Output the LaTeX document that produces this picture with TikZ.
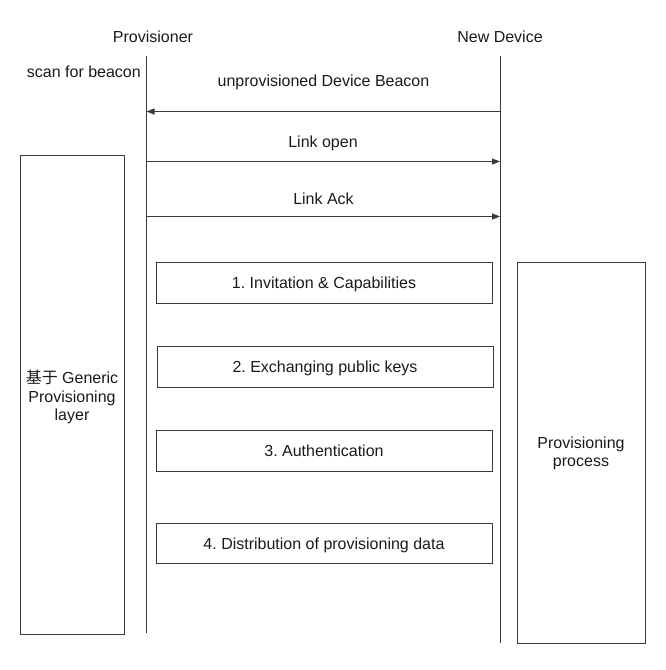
\documentclass[tikz,border=0pt]{standalone}
\usepackage{fontspec}
\setmainfont{Liberation Sans}
\newfontfamily\cjk{Noto Sans CJK SC}
\usetikzlibrary{arrows.meta}
\frenchspacing
\definecolor{ln}{HTML}{3A3A3A}
\definecolor{tx}{HTML}{1A1A1A}
\tikzset{
  every node/.style={text=tx, font=\fontsize{16}{18.5}\selectfont, inner sep=0pt},
  life/.style={draw=ln, line width=1pt},
  msg/.style={draw=ln, line width=1pt, -{Triangle[length=8pt,width=6pt]}},
  stepbox/.style={draw=ln, line width=1pt, minimum width=336pt, minimum height=40.5pt, anchor=north west, text height=11.5pt, text depth=0pt},
}
\begin{document}
\begin{tikzpicture}[x=1pt,y=-1pt]
\useasboundingbox (0,0) rectangle (666,670);
% actors
\node (prov) at (153,37) {Provisioner};
\node (dev) at (500,37) {New Device};
% lifelines
\coordinate (pt) at (146.5,56);
\coordinate (pb) at (146.5,633);
\coordinate (dt) at (500,56);
\coordinate (db) at (500,643);
\draw[life] (pt) -- (pb);
\draw[life] (dt) -- (db);
% messages
\node[anchor=east] (scan) at (141,72) {scan for beacon};
\node (beaconlbl) at (323.5,82) {unprovisioned Device Beacon};
\coordinate (b1) at (500,111.5);
\coordinate (b2) at (146.5,111.5);
\draw[msg] (b1) -- (b2);
\node (openlbl) at (323,143) {Link open};
\coordinate (o1) at (146.5,161.5);
\coordinate (o2) at (500,161.5);
\draw[msg] (o1) -- (o2);
\node (acklbl) at (323.5,199) {Link Ack};
\coordinate (a1) at (146.5,216.5);
\coordinate (a2) at (500,216.5);
\draw[msg] (a1) -- (a2);
% side boxes
\draw[draw=ln, line width=1pt] (20,155) rectangle (124,634.5);
\node[align=center] (gen) at (72,397) {{\cjk 基于} Generic\\Provisioning\\layer};
\draw[draw=ln, line width=1pt] (517,262) rectangle (645,643);
\node[align=center] (pp) at (581,453.5) {Provisioning\\process};
% steps
\node[stepbox] (s1) at (155.5,262) {1. Invitation \& Capabilities};
\node[stepbox] (s2) at (156.5,346) {2. Exchanging public keys};
\node[stepbox] (s3) at (155.5,430) {3. Authentication};
\node[stepbox] (s4) at (155.5,522.5) {4. Distribution of provisioning data};
\end{tikzpicture}
\end{document}
